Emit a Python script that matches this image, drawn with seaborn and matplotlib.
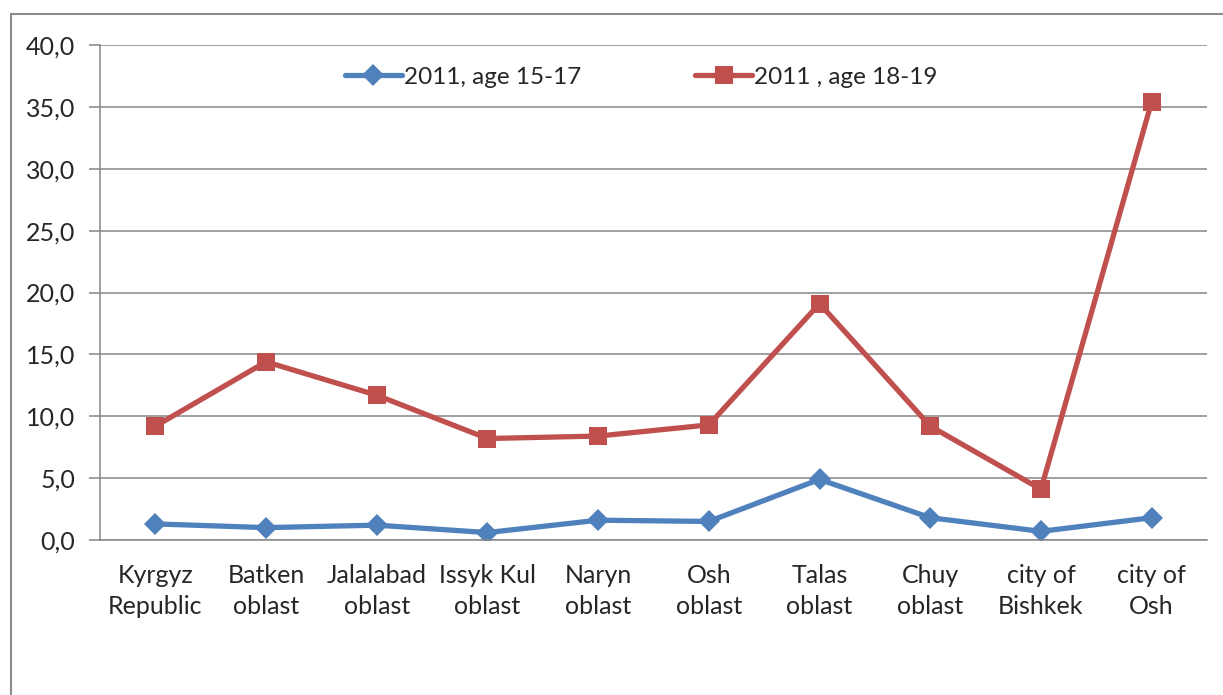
import matplotlib
matplotlib.use("Agg")
import matplotlib.pyplot as plt
import matplotlib.patches as mpatches
from matplotlib.ticker import FuncFormatter, FixedLocator
import pandas as pd
import seaborn as sns

sns.set_style("white")
plt.rcParams["font.family"] = ["Lato", "DejaVu Sans"]

regions = ["Kyrgyz\nRepublic", "Batken\noblast", "Jalalabad\noblast", "Issyk Kul\noblast",
           "Naryn\noblast", "Osh\noblast", "Talas\noblast", "Chuy\noblast",
           "city of\nBishkek", "city of\nOsh"]
age_15_17 = [1.3, 1.0, 1.2, 0.6, 1.6, 1.5, 4.9, 1.8, 0.7, 1.8]
age_18_19 = [9.2, 14.4, 11.7, 8.2, 8.4, 9.3, 19.1, 9.2, 4.1, 35.4]
labels = ["2011, age 15-17", "2011 , age 18-19"]

df = pd.DataFrame({"region": regions, "a": age_15_17, "b": age_18_19})

fig = plt.figure(figsize=(12.23, 6.95), dpi=100)
ax = fig.add_axes([100 / 1223, 155 / 695, 1107 / 1223, 495 / 695])

# outer chart frame
fig.patches.append(mpatches.Rectangle((11 / 1223, -0.1), 1.2, (695 - 14) / 695 + 0.1,
                                      transform=fig.transFigure, fill=False,
                                      edgecolor="#8c8c8c", linewidth=1.5))

sns.lineplot(data=df, x="region", y="a", ax=ax, color="#4F81BD", linewidth=3.8,
             marker="D", markersize=11, markeredgewidth=0, label=labels[0], sort=False)
sns.lineplot(data=df, x="region", y="b", ax=ax, color="#C0504D", linewidth=3.8,
             marker="s", markersize=13, markeredgewidth=0, label=labels[1], sort=False)

ax.set_xlim(-0.5, 9.5)
ax.set_ylim(0, 40)
ax.set_yticks(range(0, 41, 5))
ax.yaxis.set_major_formatter(FuncFormatter(lambda v, p: f"{v:.1f}".replace(".", ",")))
ax.grid(axis="y", color="#868686", linewidth=1.1)
ax.set_axisbelow(True)
ax.set_xlabel("")
ax.set_ylabel("")

ax.xaxis.set_minor_locator(FixedLocator([i - 0.5 for i in range(11)]))
ax.tick_params(axis="x", which="major", length=0, pad=17, labelsize=18)
ax.tick_params(axis="x", which="minor", length=8, width=1.1, color="#868686", direction="out")
ax.tick_params(axis="y", length=8, width=1.1, color="#868686", direction="out", labelsize=18, pad=10)
ax.xaxis.set_tick_params(bottom=True)
ax.yaxis.set_tick_params(left=True)
for lbl in ax.get_xticklabels():
    lbl.set_linespacing(1.45)

for s in ["top", "right"]:
    ax.spines[s].set_visible(False)
for s in ["left", "bottom"]:
    ax.spines[s].set_color("#868686")
    ax.spines[s].set_linewidth(1.1)

ax.legend(loc="upper center", bbox_to_anchor=(0.489, 1.0), ncol=2, frameon=False,
          fontsize=17.5, columnspacing=4.7, handlelength=2.35, handletextpad=0.08)

fig.savefig("out.png", dpi=100)
